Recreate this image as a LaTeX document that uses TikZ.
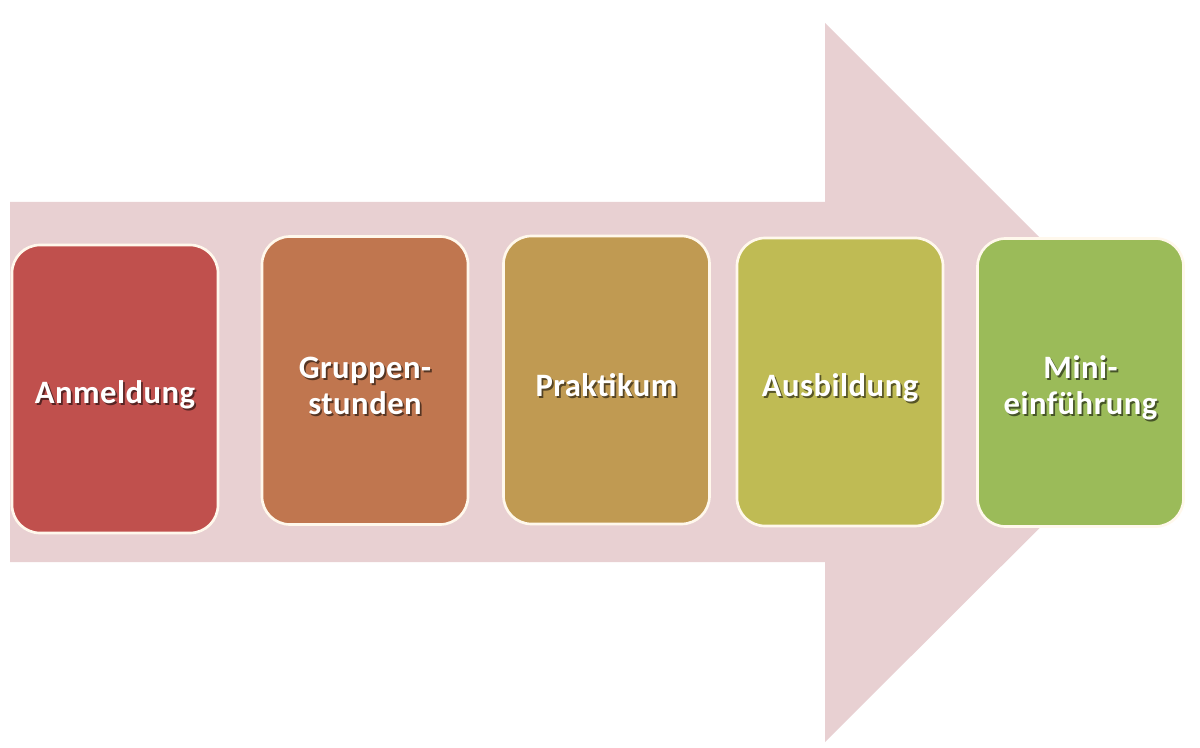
\documentclass[tikz,border=0pt]{standalone}
\usepackage{fontspec}
\setmainfont{Carlito}[LetterSpace=1.5]
\definecolor{arrowpink}{HTML}{E8D0D2}
\definecolor{boxedge}{HTML}{FFF8EC}
\definecolor{cA}{HTML}{C0504D}
\definecolor{cB}{HTML}{C0764F}
\definecolor{cC}{HTML}{C09A52}
\definecolor{cD}{HTML}{BFBB54}
\definecolor{cE}{HTML}{9BBB59}
\newcommand{\shd}[2]{\leavevmode\raisebox{-4pt}[\height][\depth]{\rlap{\hspace{1.3pt}\raisebox{-1.7pt}[0pt][0pt]{\textcolor{#1!45!black}{#2}}}#2}}
\begin{document}
\begin{tikzpicture}[x=0.75pt,y=-0.75pt,
  stage/.style={rectangle, rounded corners=21pt, draw=boxedge, line width=2pt,
    minimum width=154.5pt, minimum height=216pt, inner sep=0pt, text=white,
    font=\bfseries\fontsize{24.5}{27}\selectfont, align=center},
  bigarrow/.style={fill=arrowpink, draw=none}]
\useasboundingbox (0,0) rectangle (1200,748);
\fill[white] (0,0) rectangle (1200,748);
\fill[bigarrow] (10,202) -- (825,202) -- (825,23) -- (1185,383) -- (825,742) -- (825,562) -- (10,562) -- cycle;
\node[stage, fill=cA] (anm) at (115,389) {\shd{cA}{Anmeldung}};
\node[stage, fill=cB] (grp) at (365,380.5) {\shd{cB}{Gruppen-}\\\shd{cB}{stunden}};
\node[stage, fill=cC] (prk) at (606.5,380) {\shd{cC}{Praktikum}};
\node[stage, fill=cD] (aus) at (840,382) {\shd{cD}{Ausbildung}};
\node[stage, fill=cE] (min) at (1080.5,382.5) {\shd{cE}{Mini-}\\\shd{cE}{einführung}};
\end{tikzpicture}
\end{document}
